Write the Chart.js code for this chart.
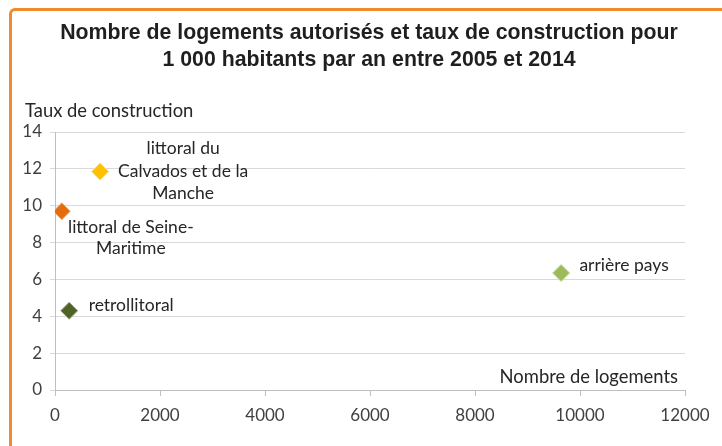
<!DOCTYPE html>
<html>
<head>
<meta charset="utf-8">
<script src="https://cdn.jsdelivr.net/npm/chart.js@4"></script>
<style>
  html, body { margin: 0; padding: 0; background: #fff; }
  #wrap { position: relative; width: 722px; height: 446px; overflow: hidden; }
  #frame { position: absolute; left: 9px; top: 8px; width: 760px; height: 500px;
           border: 3px solid #f08a2c; border-radius: 6px; }
  #c { position: absolute; left: 0; top: 0; }
</style>
</head>
<body>
<div id="wrap">
  <div id="frame"></div>
  <canvas id="c" width="722" height="446"></canvas>
</div>
<script>
// Données du graphique
const zones = ['littoral du Calvados et de la Manche', 'littoral de Seine-Maritime', 'retrollitoral', 'arrière pays'];
const logements = [860, 130, 270, 9640];
const tauxConstruction = [11.85, 9.7, 4.3, 6.35];
const couleurs = ['#ffc000', '#e46c0a', '#4f6228', '#9bbb59'];
const bordures = ['#f3dc8e', '#f0b27e', '#9aa88a', '#c9dca6'];
const xTicks = [0, 2000, 4000, 6000, 8000, 10000, 12000];
const yTicks = [0, 2, 4, 6, 8, 10, 12, 14];

const titre = ['Nombre de logements autorisés et taux de construction pour', '1 000 habitants par an entre 2005 et 2014'];

// label lines + placement relative to the point (style only)
const etiquettes = [
  { lines: ['littoral du', 'Calvados et de la', 'Manche'], dx: 83, dy: -23, lh: 22.5 },
  { lines: ['littoral de Seine-', 'Maritime'], dx: 69, dy: 16, lh: 21 },
  { lines: ['retrollitoral'], dx: 62, dy: -5, lh: 21 },
  { lines: ['arrière pays'], dx: 63, dy: -8, lh: 21 }
];

const FONT_TXT = 'Lato, "Open Sans", sans-serif';

const decor = {
  id: 'decor',
  afterDraw(chart) {
    const ctx = chart.ctx;
    const ca = chart.chartArea;
    ctx.save();
    // title
    ctx.fillStyle = '#1f1f1f';
    ctx.font = 'bold 21.3px "Liberation Sans", Arial, sans-serif';
    ctx.textAlign = 'center';
    ctx.textBaseline = 'middle';
    ctx.fillText(titre[0], 369, 33);
    ctx.fillText(titre[1], 369, 60);
    // axis titles
    ctx.fillStyle = '#262626';
    ctx.font = '18.4px ' + FONT_TXT;
    ctx.textAlign = 'left';
    ctx.fillText('Taux de construction', 25, 111);
    ctx.textAlign = 'right';
    ctx.fillText('Nombre de logements', ca.right - 7, 377);
    // point labels
    const meta = chart.getDatasetMeta(0);
    ctx.font = '17.5px ' + FONT_TXT;
    ctx.fillStyle = '#262626';
    ctx.textAlign = 'center';
    meta.data.forEach((pt, i) => {
      const e = etiquettes[i];
      e.lines.forEach((ln, k) => {
        ctx.fillText(ln, pt.x + e.dx, pt.y + e.dy + k * e.lh);
      });
    });
    ctx.restore();
  }
};

new Chart(document.getElementById('c'), {
  type: 'scatter',
  data: {
    datasets: [{
      data: logements.map((v, i) => ({ x: v, y: tauxConstruction[i] })),
      backgroundColor: couleurs,
      borderColor: bordures,
      borderWidth: 1,
      pointStyle: 'rectRot',
      pointRadius: 8.5,
      pointHoverRadius: 8.5
    }]
  },
  options: {
    responsive: false,
    animation: false,
    events: [],
    layout: { padding: { left: 11, right: 37, top: 132, bottom: 0 } },
    plugins: { legend: { display: false }, tooltip: { enabled: false }, title: { display: false } },
    scales: {
      x: {
        type: 'linear', min: 0, max: 12000,
        afterBuildTicks: s => { s.ticks = xTicks.map(v => ({ value: v })); },
        afterFit: s => { s.height = 56; },
        grid: { drawOnChartArea: false, drawTicks: true, tickLength: 6, color: '#bfbfbf' },
        border: { display: true, color: '#bfbfbf', width: 1 },
        ticks: { color: '#404040', font: { family: FONT_TXT, size: 17 }, padding: 9, maxRotation: 0,
          callback: v => String(v) }
      },
      y: {
        type: 'linear', min: 0, max: 14,
        afterBuildTicks: s => { s.ticks = yTicks.map(v => ({ value: v })); },
        afterFit: s => { s.width = 44; },
        grid: { color: '#d9d9d9', drawTicks: true, tickLength: 5 },
        border: { display: true, color: '#bfbfbf', width: 1 },
        ticks: { color: '#404040', font: { family: FONT_TXT, size: 17 }, padding: 8 }
      }
    }
  },
  plugins: [decor]
});
</script>
</body>
</html>
